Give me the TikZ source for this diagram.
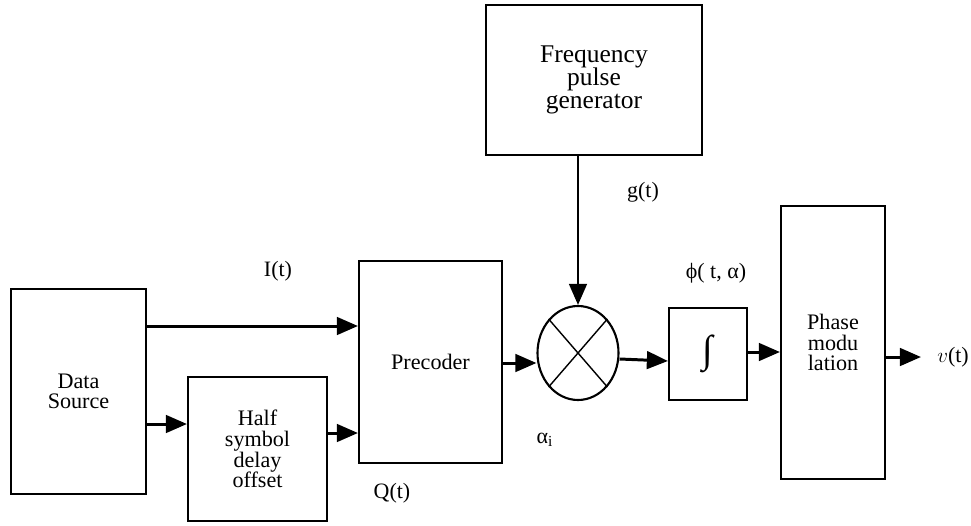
\documentclass[tikz,border=0pt]{standalone}
\usepackage{fontspec}
\setmainfont{Liberation Serif}
\usetikzlibrary{arrows.meta,shapes.geometric}

\tikzset{
  blk/.style={draw, line width=1.2pt, align=center, inner sep=0pt,
    font=\fontsize{12.6}{11.5}\selectfont},
  sig/.style={line width=1.7pt, -{Triangle[length=12pt,width=10pt]}},
  lbl/.style={font=\fontsize{12.5}{13}\selectfont, inner sep=0pt}
}

\begin{document}
\begin{tikzpicture}[x=0.02cm, y=-0.02cm]
    % Size of one pixel of the reference
    \def\px{0.02cm}
    \useasboundingbox (0, 0) rectangle (971, 525);

    % Blocks
    \node[blk, minimum width=135*\px, minimum height=205*\px] (data) at (78.5, 391.5) {Data\\Source};
    \node[blk, minimum width=139*\px, minimum height=144*\px, font=\fontsize{12.6}{11.8}\selectfont] (half) at (257.5, 449) {Half\\symbol\\delay\\offset};
    \node[blk, minimum width=143*\px, minimum height=202*\px] (pre) at (430.5, 362) {Precoder};
    \node[blk, minimum width=216*\px, minimum height=150*\px, font=\fontsize{14.5}{13.2}\selectfont] (freq) at (594, 80) {Frequency\\pulse\\generator};
    \node[blk, ellipse, minimum width=81*\px, minimum height=94*\px] (mix) at (578, 353) {};
    \node[blk, minimum width=78*\px, minimum height=92*\px, font=\fontsize{22}{22}\selectfont] (int) at (708, 354) {∫};
    \node[blk, minimum width=104*\px, minimum height=273*\px, font=\fontsize{12.6}{11.5}\selectfont] (phase) at (833, 342.5) {Phase\\modu\\lation};

    % Cross inside the mixer
    \draw[line width=0.8pt] (mix.north west) -- (mix.south east);
    \draw[line width=0.8pt] (mix.north east) -- (mix.south west);

    % Signals
    \coordinate (out) at (921, 357);
    \draw[sig] (data.east |- 0, 326) -- (pre.west |- 0, 326);
    \draw[sig] (data.east |- 0, 424) -- (half.west |- 0, 424);
    \draw[sig] (half.east |- 0, 433) -- (pre.west |- 0, 433);
    \draw[sig] (pre.east |- 0, 363) -- (mix.west |- 0, 363);
    \draw[sig] (freq.south -| mix.north) -- (mix.north);
    \draw[sig] (mix.east |- 0, 359) -- (int.west |- 0, 361);
    \draw[sig] (int.east |- 0, 352) -- (phase.west |- 0, 352);
    \draw[sig] (phase.east |- out) -- (out);

    % Labels
    \node[lbl] (it) at (278, 271) {I(t)};
    \node[lbl] (qt) at (392, 493) {Q(t)};
    \node[lbl] (gt) at (643, 192) {g(t)};
    \node[lbl] (phi) at (716, 273) {ϕ( t, α)};
    \node[lbl] (ai) at (545, 440) {α\textsubscript{i}};
    \node[lbl] (vt) at (953, 357) {$v$(t)};
\end{tikzpicture}
\end{document}
